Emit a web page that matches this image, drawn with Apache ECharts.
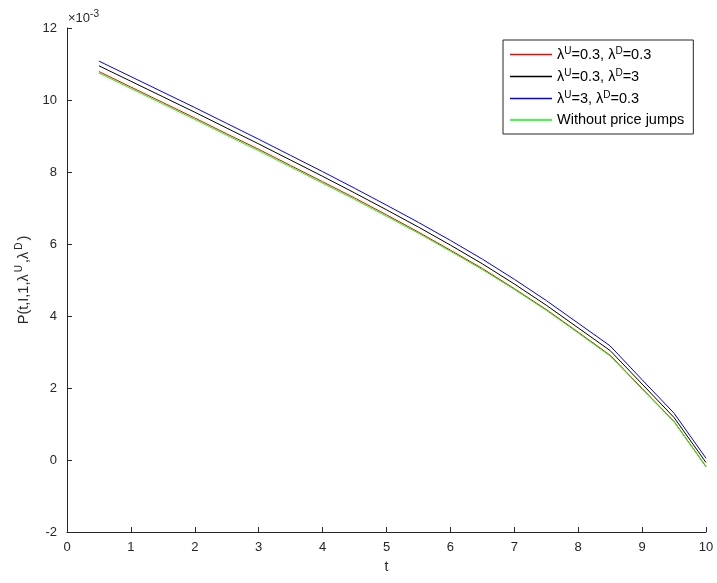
<!DOCTYPE html>
<html>
<head>
<meta charset="utf-8">
<script src="https://cdn.jsdelivr.net/npm/echarts@6/dist/echarts.min.js"></script>
<style>html,body{margin:0;padding:0;background:#fff;}#c{width:717px;height:583px;}</style>
</head>
<body>
<div id="c"></div>
<script>
// values in units of 1e-3
var tValues = [0.5,1,1.5,2,2.5,3,3.5,4,4.5,5,5.5,6,6.5,7,7.5,8,8.5,9,9.5,10];
var redValues   = [10.79,10.36,9.93,9.50,9.06,8.63,8.18,7.73,7.28,6.81,6.33,5.83,5.32,4.76,4.18,3.55,2.91,1.99,1.07,-0.18];
var blackValues = [10.95,10.52,10.09,9.66,9.22,8.78,8.33,7.88,7.42,6.95,6.47,5.97,5.45,4.89,4.30,3.67,3.04,2.11,1.18,-0.07];
var blueValues  = [11.08,10.65,10.22,9.79,9.35,8.91,8.46,8.01,7.55,7.08,6.60,6.10,5.58,5.02,4.43,3.80,3.17,2.23,1.30,0.05];
var greenValues = [10.75,10.32,9.89,9.46,9.02,8.59,8.14,7.69,7.24,6.77,6.30,5.80,5.29,4.74,4.16,3.53,2.89,1.97,1.06,-0.19];
var seriesNames = ['red','black','blue','green'];
var seriesLabels = {
  red: '{n|λ}{s|U}{n|=0.3, λ}{s|D}{n|=0.3}',
  black: '{n|λ}{s|U}{n|=0.3, λ}{s|D}{n|=3}',
  blue: '{n|λ}{s|U}{n|=3, λ}{s|D}{n|=0.3}',
  green: '{n|Without price jumps}'
};
var xTicks = [0,1,2,3,4,5,6,7,8,9,10];
var yTicks = [-2,0,2,4,6,8,10,12];

function pairs(vals){ return tValues.map(function(t,i){ return [t, vals[i]]; }); }
var colors = {red:'#ff0000', black:'#000000', blue:'#0000ff', green:'#00ff00'};
var valuesBy = {red:redValues, black:blackValues, blue:blueValues, green:greenValues};

var font = 'Liberation Sans, Arial, Helvetica, sans-serif';
var chart = echarts.init(document.getElementById('c'), null, {renderer:'canvas'});
chart.setOption({
  animation: false,
  backgroundColor: '#ffffff',
  grid: {left: 67, right: 11, top: 28, bottom: 51, containLabel: false},
  xAxis: {
    type: 'value', min: xTicks[0], max: xTicks[xTicks.length-1], interval: 1,
    name: 't', nameLocation: 'middle', nameGap: 28,
    nameTextStyle: {fontFamily: font, fontSize: 14, color: '#262626'},
    axisLine: {onZero: false, lineStyle: {color: '#262626', width: 1}},
    axisTick: {inside: true, length: 5, lineStyle: {color: '#262626'}},
    axisLabel: {fontFamily: font, fontSize: 13, color: '#262626', margin: 9},
    splitLine: {show: false}
  },
  yAxis: {
    type: 'value', min: yTicks[0], max: yTicks[yTicks.length-1], interval: 2,
    name: '{n|P(t,I,1,λ}{s|U}{n|,λ}{s|D}{n|)}', nameLocation: 'middle', nameGap: 21,
    nameTextStyle: {fontFamily: font, fontSize: 14, color: '#262626',
      rich: {n: {fontFamily: font, fontSize: 14.5, color: '#262626'},
             s: {fontFamily: font, fontSize: 10, color: '#262626', padding: [0,2,10,2]}}},
    axisLine: {show: true, onZero: false, lineStyle: {color: '#262626', width: 1}},
    axisTick: {show: true, inside: true, length: 5, lineStyle: {color: '#262626'}},
    axisLabel: {fontFamily: font, fontSize: 13, color: '#262626', margin: 10},
    splitLine: {show: false}
  },
  legend: {
    data: seriesNames,
    orient: 'vertical',
    left: 503, top: 40,
    backgroundColor: '#ffffff',
    borderColor: '#262626', borderWidth: 1, borderRadius: 0,
    padding: [6, 9, 6, 7],
    itemGap: 5,
    itemWidth: 42, itemHeight: 1.6,
    icon: 'rect',
    formatter: function(name){ return seriesLabels[name]; },
    textStyle: {fontFamily: font, fontSize: 14, color: '#000', lineHeight: 16,
      rich: {n: {fontFamily: font, fontSize: 14.5, color: '#000', lineHeight: 16},
             s: {fontFamily: font, fontSize: 10, color: '#000', padding: [0,0,7,0], lineHeight: 16}}}
  },
  graphic: [{
    type: 'text', left: 68, top: 9,
    style: {text: '{n|×10}{s|-3}', fontFamily: font,
      rich: {n: {fontFamily: font, fontSize: 13, fill: '#262626'},
             s: {fontFamily: font, fontSize: 10, fill: '#262626', padding: [0,0,9,0]}}}
  }],
  series: seriesNames.map(function(n){
    return {name: n, type: 'line', data: pairs(valuesBy[n]), showSymbol: false, symbol: 'none',
      lineStyle: {color: colors[n], width: 1}, itemStyle: {color: colors[n]}};
  })
});
</script>
</body>
</html>
